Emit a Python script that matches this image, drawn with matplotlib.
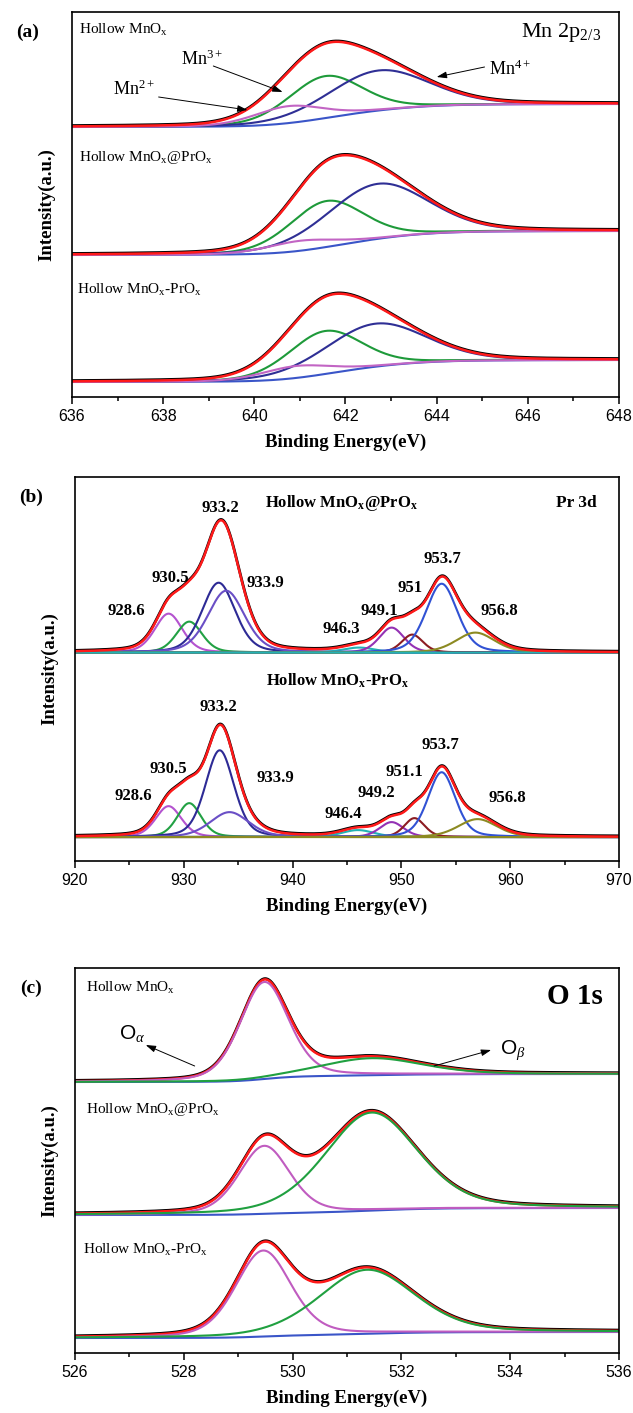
import numpy as np
import matplotlib
matplotlib.use('Agg')
import matplotlib.pyplot as plt
from matplotlib.ticker import MultipleLocator

plt.rcParams['font.family'] = ['Liberation Serif', 'DejaVu Serif']
plt.rcParams['mathtext.fontset'] = 'custom'
plt.rcParams['mathtext.rm'] = 'Liberation Serif'
plt.rcParams['mathtext.it'] = 'Liberation Serif:italic'
plt.rcParams['mathtext.bf'] = 'Liberation Serif:bold'

# ---------------- (a) Mn 2p ----------------
mn_samples = ['Hollow MnO$_\\mathrm{x}$', 'Hollow MnO$_\\mathrm{x}$@PrO$_\\mathrm{x}$',
              'Hollow MnO$_\\mathrm{x}$-PrO$_\\mathrm{x}$']
mn_base_lo = [270, 142, 15]       # background level, low BE side
mn_base_hi = [293, 166, 37]       # background level, high BE side
mn_centers = [[640.75, 641.55, 642.72], [641.0, 641.58, 642.7], [640.9, 641.55, 642.65]]
mn_heights = [[17, 42, 40], [10, 46, 55], [12, 43, 43]]
mn_fwhm = [1.8, 1.9, 2.6]          # Mn2+, Mn3+, Mn4+

# ---------------- (b) Pr 3d ----------------
pr_samples = ['Hollow MnO$_\\mathbf{x}$@PrO$_\\mathbf{x}$', 'Hollow MnO$_\\mathbf{x}$-PrO$_\\mathbf{x}$']
pr_base = [209, 24]
pr_labels = [['928.6', '930.5', '933.2', '933.9', '946.3', '949.1', '951', '953.7', '956.8'],
             ['928.6', '930.5', '933.2', '933.9', '946.4', '949.2', '951.1', '953.7', '956.8']]
pr_centers = [[928.6, 930.5, 933.2, 933.9, 946.1, 949.1, 951.0, 953.7, 956.8],
              [928.6, 930.5, 933.3, 934.2, 946.0, 949.1, 951.2, 953.7, 957.0]]
pr_heights = [[39, 31, 70, 62, 5, 25, 18, 69, 20],
              [31, 34, 87, 25, 7, 15, 19, 65, 18]]
pr_fwhm = [[3.0, 2.8, 3.6, 4.0, 3.5, 2.7, 2.3, 3.4, 4.2],
           [2.8, 2.6, 3.1, 4.2, 3.5, 2.6, 2.2, 3.0, 4.2]]

# ---------------- (c) O 1s ----------------
o_samples = mn_samples
o_base_lo = [271, 138, 15]
o_base_hi = [279, 145, 21]
o_centers = [[529.48, 531.45], [529.48, 531.45], [529.46, 531.37]]
o_heights = [[97, 17], [68, 98], [86, 64]]
o_fwhm = [[1.05, 2.2], [1.1, 2.0], [1.2, 2.07]]

W, H = 633, 1413
fig = plt.figure(figsize=(W / 100, H / 100), dpi=100)


def pv(x, c, h, w, eta):
    d = ((x - c) / w) ** 2
    return h * ((1 - eta) * np.exp(-4 * np.log(2) * d) + eta / (1 + 4 * d))


def shirley(x, comps, lo, hi):
    tot = np.sum(comps, axis=0)
    cum = np.concatenate([[0], np.cumsum((tot[1:] + tot[:-1]) / 2 * np.diff(x))])
    return lo + (hi - lo) * cum / cum[-1]


def frame(rect, xlim, major, minor, tag):
    ax = fig.add_axes(rect)
    ax.set_xlim(*xlim)
    ax.set_ylim(0, 385)
    ax.xaxis.set_major_locator(MultipleLocator(major))
    ax.xaxis.set_minor_locator(MultipleLocator(minor))
    ax.set_yticks([])
    ax.tick_params(axis='x', which='major', direction='out', length=5, width=1.1, pad=3.5,
                   labelsize=11.5, labelfontfamily='Liberation Sans')
    ax.tick_params(axis='x', which='minor', direction='out', length=3, width=1.1)
    for s in ax.spines.values():
        s.set_linewidth(1.2)
    ax.set_xlabel('Binding Energy(eV)', fontsize=13.5, fontweight='bold', labelpad=7)
    ax.set_ylabel('Intensity(a.u.)', fontsize=13.5, fontweight='bold')
    ax.yaxis.set_label_coords(-0.03, 0.5)
    fig.text(rect[0] - 0.07, rect[1] + rect[3] - 0.0145, tag, fontsize=14, fontweight='bold',
             ha='center', va='center')
    return ax


def arrow(ax, start, tip):
    ax.annotate('', xy=tip, xytext=start,
                arrowprops=dict(arrowstyle='-|>,head_length=0.6,head_width=0.2', color='black',
                                lw=0.7, shrinkA=0, shrinkB=0))


# ---- panel (a)
ax = frame([72 / W, 1 - 397 / H, 547 / W, 385 / H], (636, 648), 2, 1, '(a)')
x = np.linspace(636, 648, 1200)
mn_colors = ['#c265c4', '#1e9a3a', '#2f2f95']
for i in range(3):
    comps = [pv(x, c, h, w, 0.2) for c, h, w in zip(mn_centers[i], mn_heights[i], mn_fwhm)]
    bg = shirley(x, comps, mn_base_lo[i], mn_base_hi[i])
    env = bg + np.sum(comps, axis=0)
    ax.plot(x, bg, color='#3a55c8', lw=1.5)
    for j in [1, 2, 0]:
        ax.plot(x, bg + comps[j], color=mn_colors[j], lw=1.5)
    ax.plot(x, env + 0.8, color='black', lw=2.0)
    ax.plot(x, env, color='#ff1a1a', lw=1.8)
ax.text(636.15, 367, mn_samples[0], fontsize=11, va='center')
ax.text(636.15, 240, mn_samples[1], fontsize=11, va='center')
ax.text(636.1, 107, mn_samples[2], fontsize=11, va='center')
ax.text(647.6, 364, 'Mn 2p$_{2/3}$', fontsize=16, ha='right', va='center')
ax.text(638.85, 338, 'Mn$^{3+}$', fontsize=13, ha='center', va='center')
ax.text(637.35, 308, 'Mn$^{2+}$', fontsize=13, ha='center', va='center')
ax.text(645.6, 328, 'Mn$^{4+}$', fontsize=13, ha='center', va='center')
arrow(ax, (639.1, 331), (640.62, 305))
arrow(ax, (637.9, 300), (639.85, 287))
arrow(ax, (645.05, 330), (644.0, 320))

# ---- panel (b)
ax = frame([75 / W, 1 - 861 / H, 544 / W, 384 / H], (920, 970), 10, 5, '(b)')
x = np.linspace(920, 970, 2000)
pr_colors = ['#b453cf', '#22a144', '#2d2a95', '#6a4fc6', '#23b2b4', '#9432b4', '#8c1c22',
             '#3152d4', '#8c8a22']
base_colors = ['#23b2b4', '#8c8a22']
for i in range(2):
    comps = [pv(x, c, h, w, 0.3) for c, h, w in zip(pr_centers[i], pr_heights[i], pr_fwhm[i])]
    b = pr_base[i]
    for j, cp in enumerate(comps):
        ax.plot(x, b + cp, color=pr_colors[j], lw=1.5)
    ax.plot(x, np.full_like(x, b), color=base_colors[i], lw=1.5)
    env = b + np.sum(comps, axis=0)
    ax.plot(x, env + 0.8, color='black', lw=2.0)
    ax.plot(x, env, color='#ff1a1a', lw=1.8)

pr_lab_x = [[924.7, 928.8, 933.4, 937.5, 944.5, 948.0, 950.8, 953.8, 959.0],
            [925.4, 928.6, 933.2, 938.4, 944.7, 947.7, 950.3, 953.6, 959.7]]
pr_lab_y = [[251, 284, 354, 279, 233, 251, 274, 303, 251],
            [65, 92, 154, 83, 47, 68, 89, 116, 63]]
for i in range(2):
    for t, lx, ly in zip(pr_labels[i], pr_lab_x[i], pr_lab_y[i]):
        ax.text(lx, ly, t, fontsize=12, fontweight='bold', ha='center', va='center')
ax.text(944.5, 359, pr_samples[0], fontsize=12, fontweight='bold', ha='center', va='center')
ax.text(944.1, 181, pr_samples[1], fontsize=12, fontweight='bold', ha='center', va='center')
ax.text(968.0, 359, 'Pr 3d', fontsize=12.5, fontweight='bold', ha='right', va='center')

# ---- panel (c)
ax = frame([75 / W, 1 - 1353 / H, 544 / W, 385 / H], (526, 536), 2, 1, '(c)')
x = np.linspace(526, 536, 1200)
o_colors = ['#c05cc0', '#20a040']
for i in range(3):
    comps = [pv(x, c, h, w, 0.3) for c, h, w in zip(o_centers[i], o_heights[i], o_fwhm[i])]
    bg = shirley(x, comps, o_base_lo[i], o_base_hi[i])
    env = bg + np.sum(comps, axis=0)
    ax.plot(x, bg, color='#3a55c8', lw=1.5)
    ax.plot(x, env + 0.8, color='black', lw=2.0)
    ax.plot(x, env, color='#ff1a1a', lw=1.8)
    ax.plot(x, bg + comps[0], color=o_colors[0], lw=1.5)
    ax.plot(x, bg + comps[1], color=o_colors[1], lw=1.5)
ax.text(526.2, 365, o_samples[0], fontsize=11, va='center')
ax.text(526.2, 243, o_samples[1], fontsize=11, va='center')
ax.text(526.15, 103, o_samples[2], fontsize=11, va='center')
ax.text(535.7, 356, 'O 1s', fontsize=21, fontweight='bold', ha='right', va='center')
ax.text(527.05, 320, 'O$_\\alpha$', fontsize=15, family='Liberation Sans', ha='center', va='center')
ax.text(534.05, 303, 'O$_\\beta$', fontsize=15, family='Liberation Sans', ha='center', va='center')
arrow(ax, (528.2, 287), (527.3, 308))
arrow(ax, (532.6, 287), (533.65, 303))

fig.savefig('out.png', dpi=100)
